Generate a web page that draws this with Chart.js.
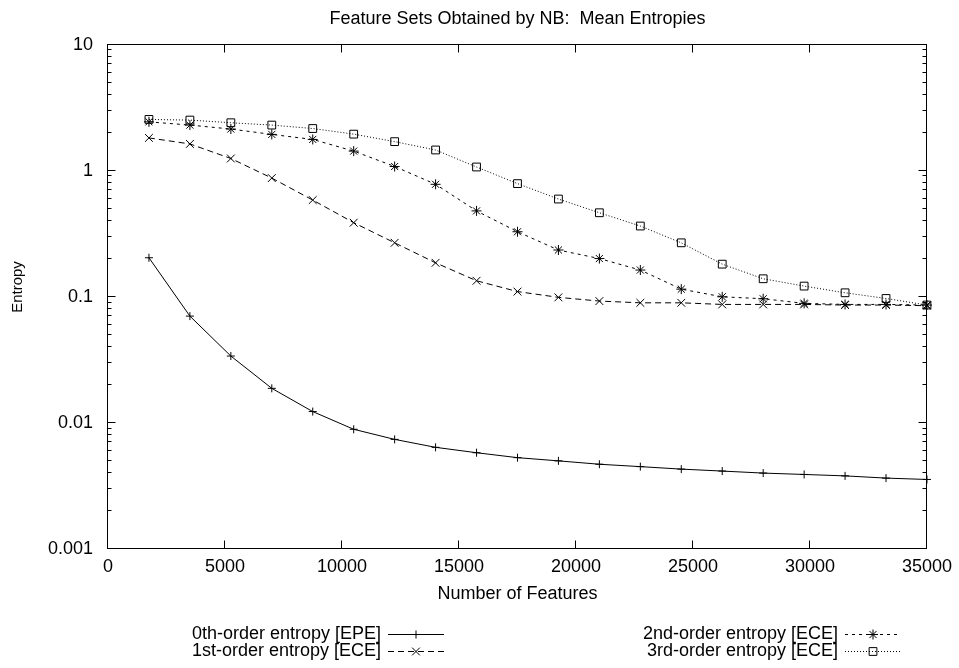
<!DOCTYPE html>
<html lang="en">
<head>
<meta charset="utf-8">
<title>Feature Sets Obtained by NB: Mean Entropies</title>
<script src="https://cdn.jsdelivr.net/npm/chart.js@4.4.0/dist/chart.umd.min.js"></script>
<style>
    html, body { margin: 0; padding: 0; background: #fff; }
    canvas { display: block; }
</style>
</head>
<body>
<canvas id="lineChart" width="959" height="668"></canvas>
<script>
// データ
const featureCounts = [1750, 3500, 5250, 7000, 8750, 10500, 12250, 14000, 15750, 17500,
    19250, 21000, 22750, 24500, 26250, 28000, 29750, 31500, 33250, 35000];
const entropy0th = [0.204, 0.0703, 0.0339, 0.0188, 0.0123, 0.0089, 0.0074, 0.0064, 0.0058, 0.0053,
    0.0050, 0.0047, 0.0045, 0.0043, 0.00415, 0.0040, 0.0039, 0.0038, 0.00365, 0.00356];
const entropy1st = [1.82, 1.63, 1.25, 0.874, 0.585, 0.387, 0.268, 0.186, 0.134, 0.110,
    0.099, 0.0925, 0.0896, 0.0896, 0.087, 0.087, 0.087, 0.086, 0.086, 0.085];
const entropy2nd = [2.44, 2.30, 2.14, 1.94, 1.77, 1.43, 1.08, 0.78, 0.48, 0.328,
    0.235, 0.201, 0.163, 0.115, 0.100, 0.0965, 0.0887, 0.087, 0.087, 0.086];
const entropy3rd = [2.55, 2.52, 2.40, 2.30, 2.16, 1.95, 1.70, 1.46, 1.07, 0.79,
    0.596, 0.464, 0.364, 0.268, 0.1815, 0.139, 0.1216, 0.1076, 0.097, 0.086];
const seriesLabels = ['0th-order entropy [EPE]', '1st-order entropy [ECE]',
    '2nd-order entropy [ECE]', '3rd-order entropy [ECE]'];

// 目盛り
const xTickValues = [0, 5000, 10000, 15000, 20000, 25000, 30000, 35000];
const yTickValues = [0.001, 0.01, 0.1, 1, 10];
const yTickLabels = ['0.001', '0.01', '0.1', '1', '10'];

document.addEventListener('DOMContentLoaded', () => {
    const ctx = document.getElementById('lineChart');

    Chart.defaults.font.family = '"Liberation Sans", Arial, Helvetica, sans-serif';
    Chart.defaults.font.size = 18;
    Chart.defaults.color = '#000';

    const toPoints = (values) => values.map((v, i) => ({ x: featureCounts[i], y: v }));

    // gnuplot風の枠と内向きの目盛り、縦軸ラベル
    const gnuplotFrame = {
        id: 'gnuplotFrame',
        afterDraw(chart) {
            const c = chart.ctx;
            const { left, right, top, bottom } = chart.chartArea;
            const xs = chart.scales.x;
            const ys = chart.scales.y;
            const l = Math.round(left) - 0.5, r = Math.round(right) - 0.5;
            const t = Math.round(top) - 0.5, b = Math.round(bottom) - 0.5;
            c.save();
            c.strokeStyle = '#000';
            c.lineWidth = 1;
            c.setLineDash([]);
            c.strokeRect(l, t, r - l, b - t);
            c.beginPath();
            xTickValues.forEach((v) => {
                const px = Math.round(xs.getPixelForValue(v)) - 0.5;
                c.moveTo(px, b); c.lineTo(px, b - 8);
                c.moveTo(px, t); c.lineTo(px, t + 8);
            });
            yTickValues.forEach((v, i) => {
                const py = Math.round(ys.getPixelForValue(v)) - 0.5;
                c.moveTo(l, py); c.lineTo(l + 8, py);
                c.moveTo(r, py); c.lineTo(r - 8, py);
                if (i < yTickValues.length - 1) {
                    for (let m = 2; m <= 9; m++) {
                        const pm = Math.round(ys.getPixelForValue(v * m)) - 0.5;
                        c.moveTo(l, pm); c.lineTo(l + 4, pm);
                        c.moveTo(r, pm); c.lineTo(r - 4, pm);
                    }
                }
            });
            c.stroke();

            // 縦軸タイトル（中央より少し上）
            c.translate(18, 287);
            c.rotate(-Math.PI / 2);
            c.font = '15px "Liberation Sans", Arial, Helvetica, sans-serif';
            c.fillStyle = '#000';
            c.textAlign = 'center';
            c.textBaseline = 'middle';
            c.fillText('Entropy', 0, 0);
            c.restore();
        }
    };

    // 凡例（2列、テキスト右寄せ＋線サンプル）
    const gnuplotKey = {
        id: 'gnuplotKey',
        afterDraw(chart) {
            const c = chart.ctx;
            const slots = [{ x: 381, y: 634 }, { x: 381, y: 651 }, { x: 838, y: 634 }, { x: 838, y: 651 }];
            chart.data.datasets.forEach((ds, i) => {
                const s = slots[i];
                c.save();
                c.font = '18px "Liberation Sans", Arial, Helvetica, sans-serif';
                c.fillStyle = '#000';
                c.textAlign = 'right';
                c.textBaseline = 'middle';
                c.fillText(ds.label, s.x, s.y);
                const x0 = s.x + 7, x1 = s.x + 63;
                c.strokeStyle = ds.borderColor;
                c.lineWidth = 1;
                c.setLineDash(ds.borderDash || []);
                c.beginPath();
                c.moveTo(x0, s.y + 0.5);
                c.lineTo(x1, s.y + 0.5);
                c.stroke();
                c.setLineDash([]);
                c.fillStyle = 'rgba(0,0,0,0)';
                Chart.helpers.drawPoint(c, {
                    pointStyle: ds.pointStyle,
                    radius: ds.pointRadius,
                    borderWidth: 1,
                    rotation: 0
                }, Math.round((x0 + x1) / 2), s.y + 0.5);
                c.restore();
            });
        }
    };

    const lineSet = (label, values, dash, style, radius) => ({
        label: label,
        data: toPoints(values),
        borderColor: '#000',
        borderWidth: 1,
        borderDash: dash,
        pointStyle: style,
        pointRadius: radius,
        pointHoverRadius: radius,
        pointBorderColor: '#000',
        pointBackgroundColor: 'rgba(0,0,0,0)',
        pointBorderWidth: 1,
        tension: 0,
        fill: false,
        clip: false,
    });

    new Chart(ctx, {
        type: 'line',
        data: {
            datasets: [
                lineSet(seriesLabels[0], entropy0th, [], 'cross', 4),
                lineSet(seriesLabels[1], entropy1st, [6, 4], 'crossRot', 5.5),
                lineSet(seriesLabels[2], entropy2nd, [3, 4], 'star', 5),
                lineSet(seriesLabels[3], entropy3rd, [1, 2], 'rect', 5.5),
            ]
        },
        options: {
            responsive: false,
            animation: false,
            devicePixelRatio: 1,
            layout: {
                padding: { left: 0, right: 29, top: 0, bottom: 0 }
            },
            plugins: {
                title: {
                    display: true,
                    text: 'Feature Sets Obtained by NB:  Mean Entropies',
                    fullSize: false,
                    color: '#000',
                    font: { size: 18, weight: 'normal' },
                    padding: { top: 8, bottom: 15 }
                },
                legend: { display: false },
                tooltip: { enabled: false },
            },
            scales: {
                x: {
                    type: 'linear',
                    min: 0,
                    max: 35000,
                    afterFit: (scale) => { scale.height = 119; },
                    afterBuildTicks: (scale) => {
                        scale.ticks = xTickValues.map((v) => ({ value: v }));
                    },
                    ticks: {
                        padding: 7,
                        maxRotation: 0,
                        autoSkip: false,
                        callback: (v) => String(v),
                    },
                    grid: { display: false, drawTicks: false },
                    border: { display: false },
                    title: {
                        display: true,
                        text: 'Number of Features',
                        padding: { top: 0, bottom: 63 }
                    }
                },
                y: {
                    type: 'logarithmic',
                    min: 0.001,
                    max: 10,
                    afterFit: (scale) => { scale.width = 108; },
                    afterBuildTicks: (scale) => {
                        scale.ticks = yTickValues.map((v) => ({ value: v }));
                    },
                    ticks: {
                        padding: 15,
                        autoSkip: false,
                        callback: (v) => yTickLabels[yTickValues.indexOf(v)],
                    },
                    grid: { display: false, drawTicks: false },
                    border: { display: false }
                }
            }
        },
        plugins: [gnuplotFrame, gnuplotKey]
    });
});
</script>
</body>
</html>
